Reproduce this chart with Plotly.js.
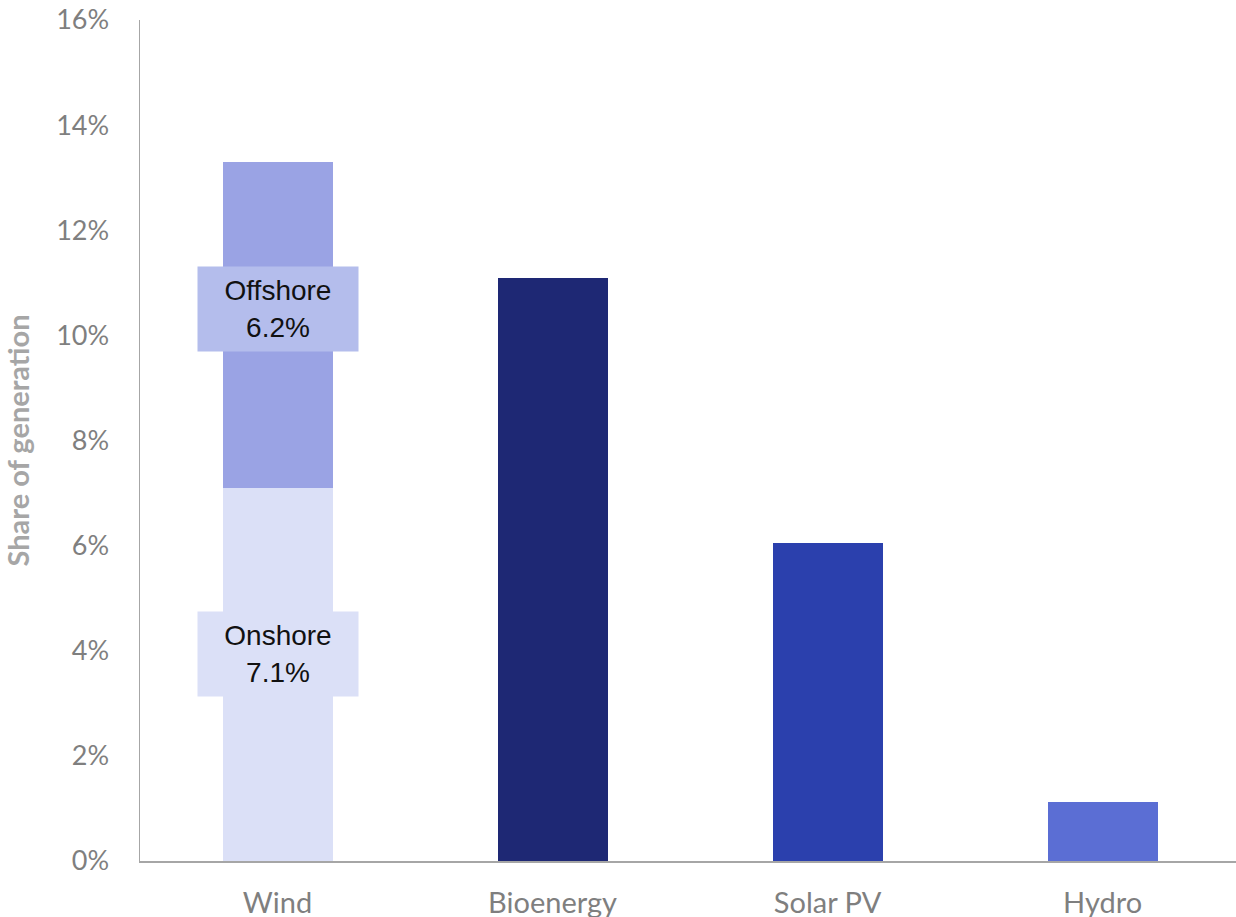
<!DOCTYPE html>
<html>
<head>
<meta charset="utf-8">
<script src="https://cdn.plot.ly/plotly-3.0.1.min.js"></script>
<style>html,body{margin:0;padding:0;background:#fff;}#chart{width:1236px;height:917px;}</style>
</head>
<body>
<div id="chart"></div>
<script>
const categories = ["Wind", "Bioenergy", "Solar PV", "Hydro"];
const windOnshore = [7.1];
const windOffshore = [6.2];
const otherCategories = ["Bioenergy", "Solar PV", "Hydro"];
const otherValues = [11.1, 6.05, 1.12];
const yTickVals = [0, 2, 4, 6, 8, 10, 12, 14, 16];
const yTickText = ["0%", "2%", "4%", "6%", "8%", "10%", "12%", "14%", "16%"];
const labelOnshore = "Onshore<br>7.1%";
const labelOffshore = "Offshore<br>6.2%";

const colOnshore = "#dbe0f7";
const colOffshore = "#9aa3e4";
const otherColors = ["#1e2874", "#2b40ad", "#5b6ed4"];

const traces = [
  {type: "bar", x: ["Wind"], y: windOnshore, marker: {color: colOnshore}, width: 0.4, hoverinfo: "skip"},
  {type: "bar", x: ["Wind"], y: windOffshore, marker: {color: colOffshore}, width: 0.4, hoverinfo: "skip"},
  {type: "bar", x: otherCategories, y: otherValues, marker: {color: otherColors}, width: 0.4, hoverinfo: "skip"}
];

const fam = "Lato, 'Open Sans', sans-serif";

const layout = {
  width: 1236, height: 917,
  margin: {l: 140, r: 0, t: 20, b: 56},
  paper_bgcolor: "#fff", plot_bgcolor: "#fff",
  barmode: "stack",
  showlegend: false,
  xaxis: {
    type: "category", categoryorder: "array", categoryarray: categories,
    range: [-0.5, 3.485],
    showline: true, linecolor: "#a6a6a6", linewidth: 1.5,
    showgrid: false, zeroline: false, ticks: "",
    tickfont: {family: fam, size: 29, color: "#7f7f7f"}, ticklabelstandoff: 16
  },
  yaxis: {
    range: [0, 16], tickvals: yTickVals, ticktext: yTickText,
    showline: true, linecolor: "#a6a6a6", linewidth: 1.5,
    showgrid: false, zeroline: false, ticks: "",
    tickfont: {family: fam, size: 27, color: "#7f7f7f"}, ticklabelstandoff: 24,
    title: {text: "Share of generation", font: {family: fam, size: 29, color: "#a6a6a6", weight: "bold"}, standoff: 22}
  },
  annotations: [
    {x: "Wind", y: 10.5, xref: "x", yref: "y", text: labelOffshore, showarrow: false,
     bgcolor: "#b4bdec", width: 160, height: 84, borderpad: 0,
     font: {family: "'Liberation Sans', Arial, sans-serif", size: 28, color: "#111"}},
    {x: "Wind", y: 3.94, xref: "x", yref: "y", text: labelOnshore, showarrow: false,
     bgcolor: "#dbe0f7", width: 160, height: 84, borderpad: 0,
     font: {family: "'Liberation Sans', Arial, sans-serif", size: 28, color: "#111"}}
  ]
};

Plotly.newPlot("chart", traces, layout, {displayModeBar: false, staticPlot: true});
</script>
</body>
</html>
